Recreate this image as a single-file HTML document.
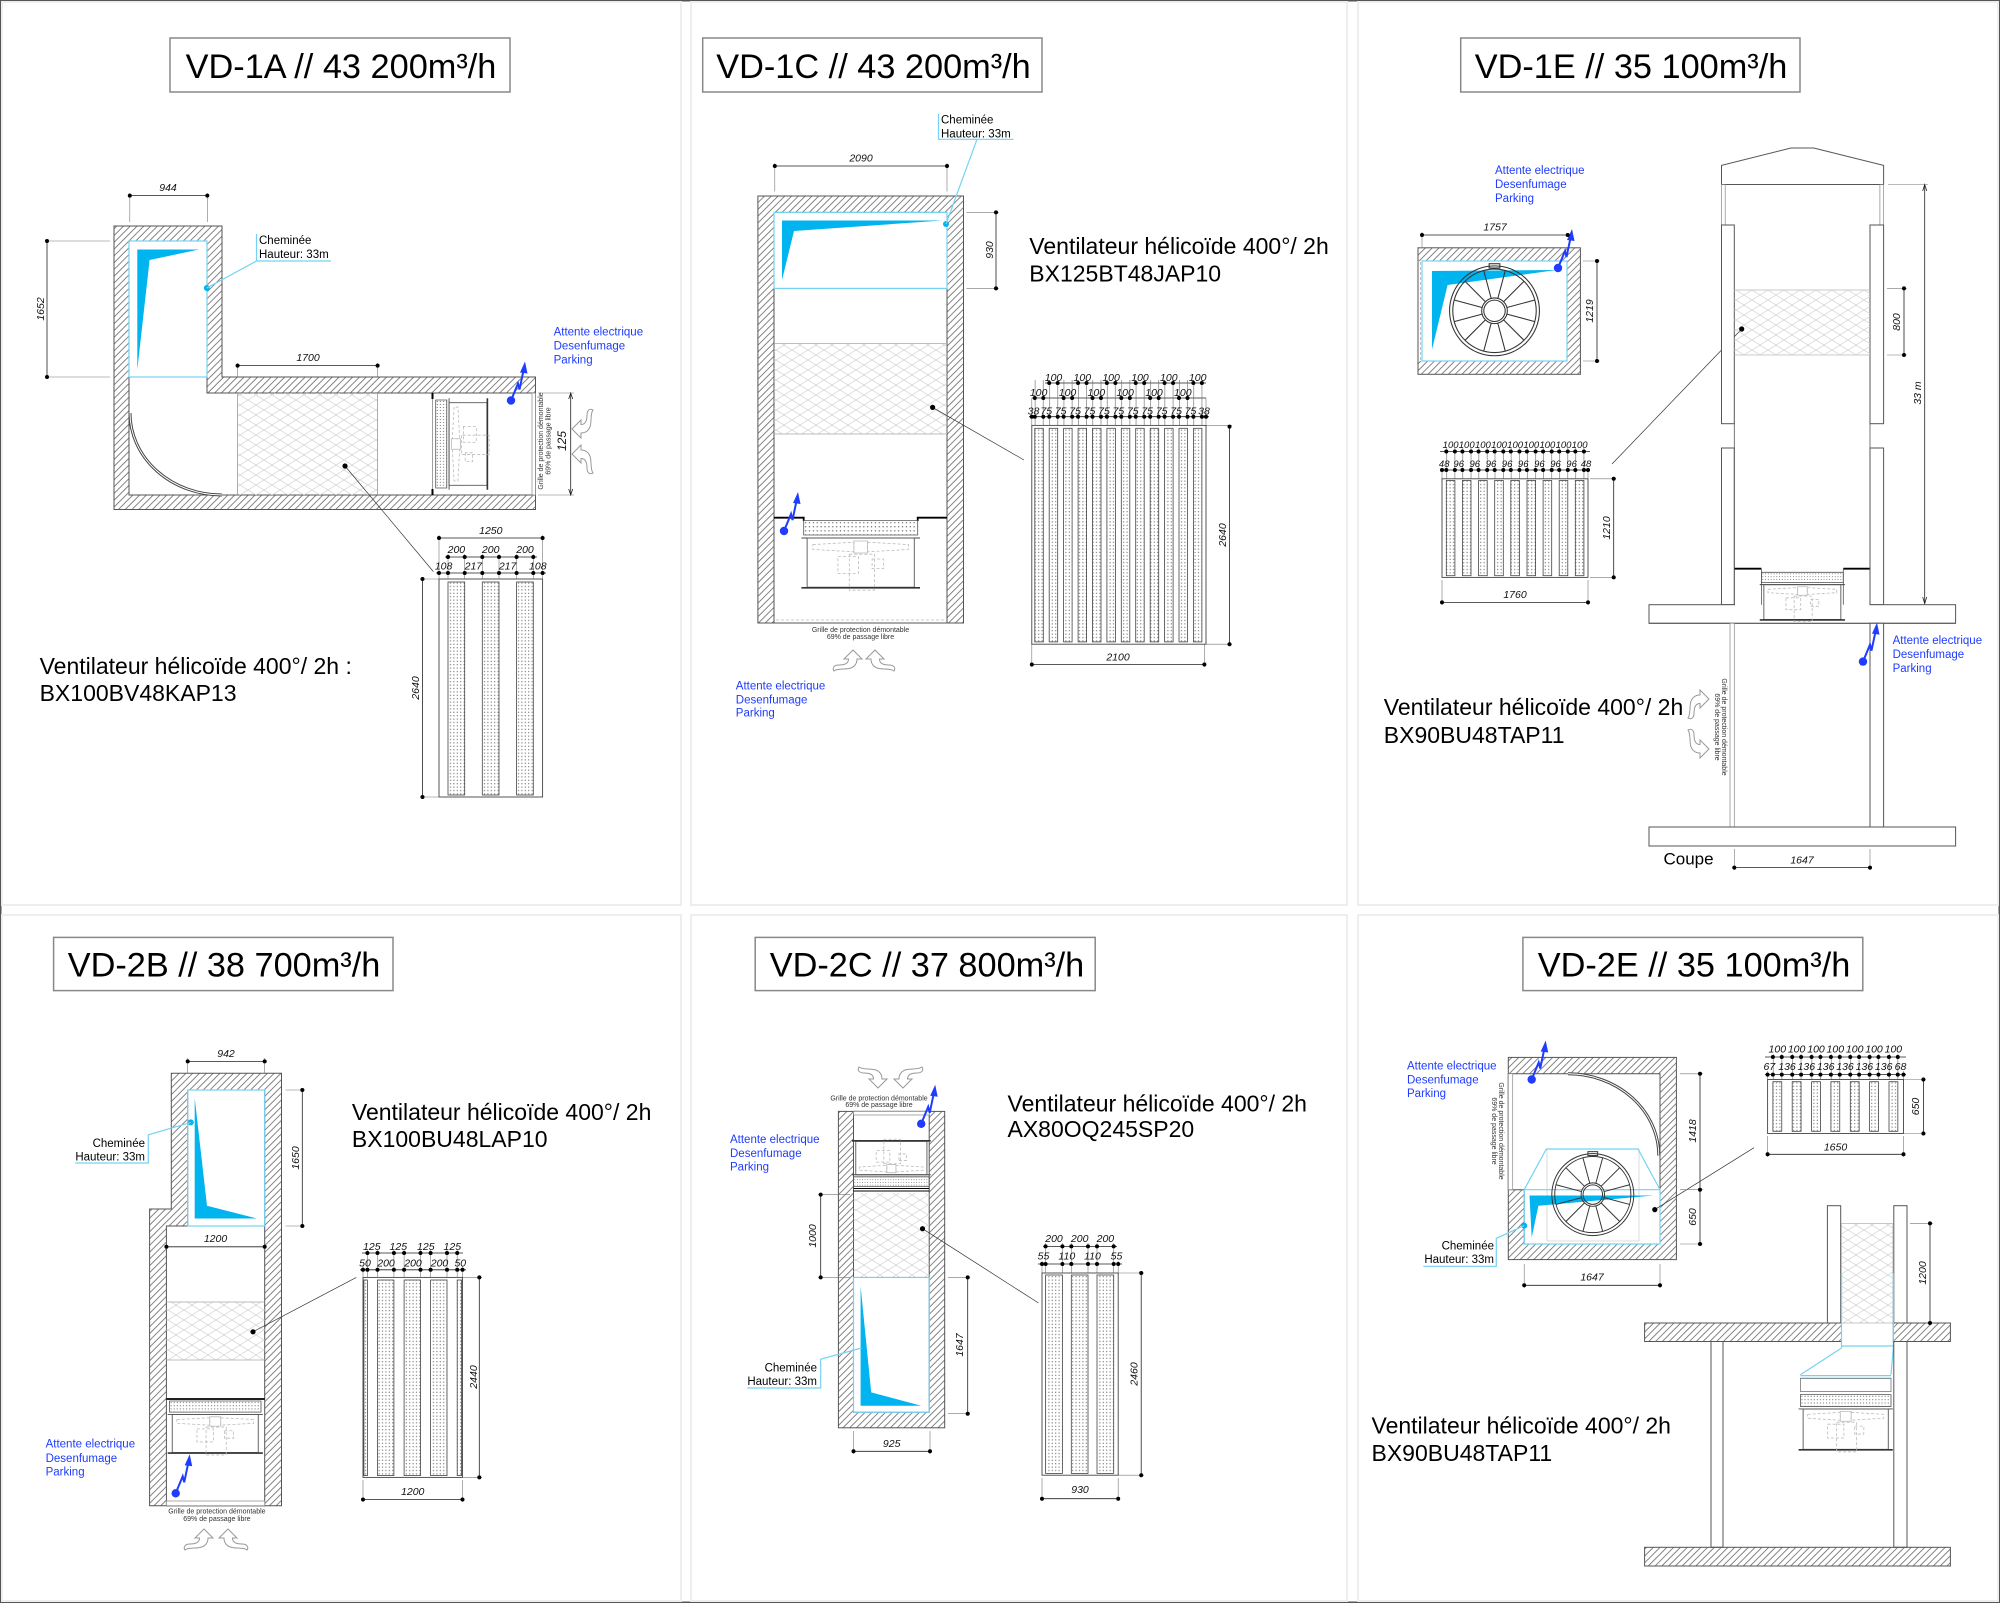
<!DOCTYPE html>
<html><head><meta charset="utf-8"><style>
html,body{margin:0;padding:0;background:#fff}
svg{display:block}
text{font-family:"Liberation Sans",Arial,sans-serif}
.t{font-size:34.3px;fill:#000;text-anchor:middle}
.v{font-size:23px;fill:#000}
.b{font-size:11.5px;fill:#1f3cff}
.c{font-size:11.5px;fill:#000}
.cr{font-size:11.5px;fill:#000;text-anchor:end}
.dm{font-size:10.5px;font-style:italic;fill:#111;text-anchor:middle}
.ds{font-size:9.5px;font-style:italic;fill:#111;text-anchor:middle}
.g{font-size:7px;fill:#333;text-anchor:middle}
.dl{stroke:#222;stroke-width:.8;fill:none}
.el{stroke:#777;stroke-width:.6;fill:none}
.w{stroke:#555;stroke-width:1;fill:url(#h)}
.wi{stroke:#555;stroke-width:1;fill:#fff}
.cy{stroke:#74d3f2;stroke-width:1.2;fill:none}
.cf{fill:#00b4f0}
.xh{fill:url(#x);stroke:#aaa;stroke-width:.8}
.st{fill:url(#d);stroke:#444;stroke-width:.8}
.fr{fill:none;stroke:#444;stroke-width:.9}
.col{fill:#fff;stroke:#555;stroke-width:1}
.ld{stroke:#333;stroke-width:.7;fill:none}
.dd{stroke:#000;stroke-width:4;stroke-linecap:round;fill:none}
.gr{fill:#fff;stroke:#888;stroke-width:.7}
.gd{stroke:#999;stroke-width:.6;stroke-dasharray:3 2;fill:none}
</style></head><body>
<svg width="2000" height="1604" viewBox="0 0 2000 1604" xmlns="http://www.w3.org/2000/svg">
<defs>
<pattern id="h" width="4.8" height="4.8" patternUnits="userSpaceOnUse" patternTransform="rotate(45)"><line x1="2.4" y1="0" x2="2.4" y2="4.8" stroke="#666" stroke-width="0.8"/></pattern>
<pattern id="x" width="16" height="10" patternUnits="userSpaceOnUse"><path d="M0,5L8,0L16,5L8,10Z" fill="none" stroke="#cfcfcf" stroke-width="0.7"/></pattern>
<pattern id="d" width="3.4" height="3.4" patternUnits="userSpaceOnUse"><circle cx="1.7" cy="1.7" r="0.6" fill="#666"/></pattern>
<pattern id="tp2" x="1034.8" y="0" width="14.42" height="20" patternUnits="userSpaceOnUse"><path d="M0.3,0V20M8.5,0V20" stroke="#666" stroke-width="0.6"/></pattern>
<pattern id="tp3" x="1446.3" y="0" width="16.13" height="20" patternUnits="userSpaceOnUse"><path d="M0.3,0V20M8.6,0V20" stroke="#666" stroke-width="0.6"/></pattern>
<pattern id="tp6" x="1772.9" y="0" width="19.34" height="20" patternUnits="userSpaceOnUse"><path d="M0.3,0V20M8.85,0V20" stroke="#666" stroke-width="0.6"/></pattern>
<g id="bolt"><circle r="4.2" fill="#1f3cff"/><path d="M0,0L7,-17L8.5,-11L12.5,-30" fill="none" stroke="#1f3cff" stroke-width="2"/><path d="M14,-39L9,-28L16.5,-27Z" fill="#1f3cff"/></g>
<path id="air" d="M9,0L18,9L13.5,9C13.5,13 17,15 23,15C28,15 30,18 28,21C25,18.5 19,19.5 13,18.5C8,17.5 5,14 5,9L0,9Z" fill="#fff" stroke="#999" stroke-width="1"/>
<g id="fan">
<rect x="0" y="0" width="100" height="12" fill="url(#d)" stroke="#555" stroke-width=".8" vector-effect="non-scaling-stroke"/>
<path d="M-2,14.5H102" stroke="#444" stroke-width=".9" vector-effect="non-scaling-stroke"/>
<rect x="3" y="14.5" width="94" height="41" fill="none" stroke="#555" stroke-width=".9" vector-effect="non-scaling-stroke"/>
<path d="M-2,56H102" stroke="#333" stroke-width="1.6" vector-effect="non-scaling-stroke"/>
<path d="M8,20L44,18V26L8,24Z M56,18L92,20V24L56,26Z" fill="none" stroke="#bbb" stroke-width=".8" stroke-dasharray="3 2" vector-effect="non-scaling-stroke"/>
<rect x="44" y="17" width="12" height="10" fill="none" stroke="#bbb" stroke-width=".8" vector-effect="non-scaling-stroke"/>
<rect x="30" y="30" width="18" height="14" fill="none" stroke="#bbb" stroke-width=".8" stroke-dasharray="3 2" vector-effect="non-scaling-stroke"/>
<rect x="40" y="28" width="22" height="30" fill="none" stroke="#bbb" stroke-width=".8" stroke-dasharray="3 2" vector-effect="non-scaling-stroke"/>
<rect x="60" y="32" width="10" height="8" fill="none" stroke="#bbb" stroke-width=".8" stroke-dasharray="3 2" vector-effect="non-scaling-stroke"/>
</g>
<g id="wheel" fill="none" stroke="#333" stroke-width="1">
<circle r="42"/><circle r="39"/><circle r="12"/><circle r="10"/>
<path d="M11.59,3.11L37.67,10.09M8.49,8.49L27.58,27.58M3.11,11.59L10.09,37.67M-3.11,11.59L-10.09,37.67M-8.49,8.49L-27.58,27.58M-11.59,3.11L-37.67,10.09M-11.59,-3.11L-37.67,-10.09M-8.49,-8.49L-27.58,-27.58M-3.11,-11.59L-10.09,-37.67M3.11,-11.59L10.09,-37.67M8.49,-8.49L27.58,-27.58M11.59,-3.11L37.67,-10.09"/>
<rect x="-5" y="-44" width="10" height="4"/>
</g>
</defs>

<rect x="0" y="0" width="2000" height="1604" fill="#fff"/>
<rect x="0.75" y="0.75" width="1998.5" height="1601.5" fill="none" stroke="#555" stroke-width="1.5"/>
<g fill="none" stroke="#eee" stroke-width="2">
<rect x="2" y="2" width="679" height="903"/>
<rect x="691" y="2" width="656" height="903"/>
<rect x="1358" y="2" width="640" height="903"/>
<rect x="2" y="915" width="679" height="686"/>
<rect x="691" y="915" width="656" height="686"/>
<rect x="1358" y="915" width="640" height="686"/>
</g>

<!-- Titles -->
<g fill="#fff" stroke="#888" stroke-width="1.5">
<rect x="170" y="38" width="340" height="54"/>
<rect x="702.7" y="38" width="339.3" height="54"/>
<rect x="1460.7" y="38" width="339.3" height="54"/>
<rect x="53.6" y="937.4" width="339.4" height="53.2"/>
<rect x="755.2" y="937.4" width="340" height="53.2"/>
<rect x="1522.9" y="937.4" width="339.9" height="53.2"/>
</g>
<text class="t" x="341" y="78">VD-1A // 43 200m³/h</text>
<text class="t" x="873.5" y="78">VD-1C // 43 200m³/h</text>
<text class="t" x="1631" y="78">VD-1E // 35 100m³/h</text>
<text class="t" x="224" y="976.5">VD-2B // 38 700m³/h</text>
<text class="t" x="927" y="976.5">VD-2C // 37 800m³/h</text>
<text class="t" x="1694" y="976.5">VD-2E // 35 100m³/h</text>

<!-- Ventilateur texts -->
<text class="v" x="39.6" y="674">Ventilateur hélicoïde 400°/ 2h :</text>
<text class="v" x="39.6" y="701">BX100BV48KAP13</text>
<text class="v" x="1029.3" y="254">Ventilateur hélicoïde 400°/ 2h</text>
<text class="v" x="1029.3" y="281.5">BX125BT48JAP10</text>
<text class="v" x="1383.8" y="715">Ventilateur hélicoïde 400°/ 2h</text>
<text class="v" x="1383.8" y="742.8">BX90BU48TAP11</text>
<text class="v" x="351.9" y="1120.2">Ventilateur hélicoïde 400°/ 2h</text>
<text class="v" x="351.9" y="1146.8">BX100BU48LAP10</text>
<text class="v" x="1007.5" y="1111.4">Ventilateur hélicoïde 400°/ 2h</text>
<text class="v" x="1007.5" y="1137">AX80OQ245SP20</text>
<text class="v" x="1371.5" y="1433.6">Ventilateur hélicoïde 400°/ 2h</text>
<text class="v" x="1371.5" y="1461">BX90BU48TAP11</text>

<!-- ================= PANEL 1 ================= -->
<path class="w" d="M114,226H222V377H535.5V509.5H114Z"/>
<path class="wi" d="M129,241H207V393H535.5V495H129Z"/>
<rect class="cy" x="129" y="241" width="78" height="136"/>
<path class="cf" d="M137.3,249.5L199,249.5L149.6,260L137.3,369.7Z"/>
<circle cx="206.8" cy="288" r="3" fill="#00b4f0"/>
<path class="cy" d="M206.8,288L256.5,261M256.5,234V261H331"/>
<text class="c" x="259" y="244">Cheminée</text>
<text class="c" x="259" y="258">Hauteur: 33m</text>
<path d="M130,413A92,82 0 0 0 222,495" fill="none" stroke="#444" stroke-width="3"/>
<path d="M130,413A92,82 0 0 0 222,495" fill="none" stroke="#fff" stroke-width="1"/>
<rect x="237.6" y="393" width="140" height="102" fill="url(#x)"/>
<path d="M237.6,393V495M377.6,393V495" stroke="#999" stroke-width=".8"/>
<path class="ld" d="M345,466L433.4,571.6"/>
<!-- fan -->
<path d="M432.5,399V489" stroke="#888" stroke-width=".8"/>
<path d="M432.5,393V399M432.5,489V495" stroke="#000" stroke-width="2"/>
<use href="#fan" transform="matrix(0,0.88,0.923,0,435.7,400)"/>
<rect class="gr" x="532" y="393" width="3.5" height="102"/>
<text class="g" transform="translate(543,441) rotate(-90)">Grille de protection démontable</text>
<text class="g" transform="translate(550.5,441) rotate(-90)">69% de passage libre</text>
<!-- dims -->
<path class="dl" d="M129.8,195.6H207.3M47,241V377M237.6,365.6H377.6M570.7,393V495"/>
<path class="el" d="M129.8,193V222M207.3,193V222M45,241H110M45,377H110M237.6,363V377M377.6,363V377M538,393H574M538,495H574"/>
<path d="M568.7,399L570.7,393L572.7,399M568.7,489L570.7,495L572.7,489" fill="none" stroke="#222" stroke-width=".8"/>
<text class="dm" x="168" y="191">944</text>
<text class="dm" transform="translate(44,309) rotate(-90)">1652</text>
<text class="dm" x="308" y="361">1700</text>
<text class="dm" style="font-size:12px" transform="translate(566,441) rotate(-90)">125</text>
<use href="#air" transform="translate(572,438) rotate(-90)"/>
<use href="#air" transform="translate(572,445) rotate(-90) scale(-1,1)"/>
<use href="#bolt" x="511" y="400.5"/>
<text class="b" x="553.6" y="335.5">Attente electrique</text>
<text class="b" x="553.6" y="349.4">Desenfumage</text>
<text class="b" x="553.6" y="363.3">Parking</text>
<!-- grid -->
<rect class="fr" x="439" y="579" width="103.6" height="218"/>
<rect class="st" x="448" y="582" width="16.7" height="213"/>
<rect class="st" x="482.3" y="582" width="16.7" height="213"/>
<rect class="st" x="516.6" y="582" width="16.7" height="213"/>
<path class="dl" d="M439,538H542.6M445,557H537M436,573H546M422.5,579V797"/>
<path class="el" d="M439,535V579M542.6,535V579M448,554V579M464.7,554V579M482.3,554V579M499,554V579M516.6,554V579M533.3,554V579M420,579H439M420,797H439"/>
<text class="dm" x="490.8" y="534">1250</text>
<text class="dm" x="456.4" y="553">200</text>
<text class="dm" x="490.7" y="553">200</text>
<text class="dm" x="525" y="553">200</text>
<text class="dm" x="443.6" y="569.5">108</text>
<text class="dm" x="473.4" y="569.5">217</text>
<text class="dm" x="507.6" y="569.5">217</text>
<text class="dm" x="537.8" y="569.5">108</text>
<text class="dm" transform="translate(419,688) rotate(-90)">2640</text>
<g fill="#000">
<circle cx="129.8" cy="195.6" r="2"/><circle cx="207.3" cy="195.6" r="2"/><circle cx="47" cy="241" r="2"/><circle cx="47" cy="377" r="2"/><circle cx="237.6" cy="365.6" r="2"/><circle cx="377.6" cy="365.6" r="2"/><circle cx="345" cy="466" r="2.6"/>
<circle cx="439" cy="538" r="2"/><circle cx="542.6" cy="538" r="2"/>
<circle cx="448" cy="557" r="2"/><circle cx="464.7" cy="557" r="2"/><circle cx="482.3" cy="557" r="2"/><circle cx="499" cy="557" r="2"/><circle cx="516.6" cy="557" r="2"/><circle cx="533.3" cy="557" r="2"/>
<circle cx="439" cy="573" r="2"/><circle cx="448" cy="573" r="2"/><circle cx="464.7" cy="573" r="2"/><circle cx="482.3" cy="573" r="2"/><circle cx="499" cy="573" r="2"/><circle cx="516.6" cy="573" r="2"/><circle cx="533.3" cy="573" r="2"/><circle cx="542.6" cy="573" r="2"/>
<circle cx="422.5" cy="579" r="2"/><circle cx="422.5" cy="797" r="2"/>
</g>

<!-- ================= PANEL 2 ================= -->
<path class="w" d="M757.9,196H963.5V623H757.9Z"/>
<rect class="wi" x="774" y="212.4" width="173" height="410.6"/>
<rect class="cy" x="774" y="212.4" width="173" height="76"/>
<path class="cf" d="M782,220.5L942.3,220.5L794,231L782,280Z"/>
<circle cx="946" cy="224" r="3" fill="#00b4f0"/>
<path class="cy" d="M946,224L977,139.3M938.5,113.8V139.3H1013.6"/>
<text class="c" x="941" y="123.6">Cheminée</text>
<text class="c" x="941" y="137.5">Hauteur: 33m</text>
<rect x="774" y="343.6" width="173" height="90.4" fill="url(#x)"/>
<path d="M774,343.6H947M774,434H947" stroke="#aaa" stroke-width=".8"/>
<path class="ld" d="M932.6,407.4L1024,460"/>
<path d="M774,517.7H803.7V521M917.7,521V517.7H947" fill="none" stroke="#000" stroke-width="1.8"/>
<use href="#fan" transform="matrix(1.14,0,0,1.2,803.7,520.6)"/>
<path class="gd" d="M776,620H945"/>
<text class="g" x="860.5" y="632">Grille de protection démontable</text>
<text class="g" x="860.5" y="639">69% de passage libre</text>
<use href="#air" transform="translate(862,650) scale(-1,1)"/>
<use href="#air" transform="translate(866,650)"/>
<use href="#bolt" x="784" y="531"/>
<text class="b" x="735.8" y="689.5">Attente electrique</text>
<text class="b" x="735.8" y="703.4">Desenfumage</text>
<text class="b" x="735.8" y="716.7">Parking</text>
<path class="dl" d="M774.8,166H947M996,212.4V288.4M1045,383H1206M1031.8,398H1206M1029,416.7H1209M1229.5,426.6V644.2M1031.8,664.5H1204.4"/>
<path class="el" d="M774.8,163V191.5M947,163V191.5M966.5,212.4H999M966.5,288.4H999M1031.8,398V425M1206,398V425M1206,425.4H1232M1206,644.2H1232M1031.8,644V667M1204.4,644V667"/>
<text class="dm" x="861" y="161.5">2090</text>
<text class="dm" transform="translate(993,250) rotate(-90)">930</text>
<!-- grid -->
<rect x="1033" y="380" width="172" height="45" fill="url(#tp2)"/>
<rect class="fr" x="1031.8" y="425.4" width="174.2" height="218.8"/>
<g class="st">
<rect x="1034.8" y="428.3" width="8.5" height="213.6"/><rect x="1049.2" y="428.3" width="8.5" height="213.6"/><rect x="1063.6" y="428.3" width="8.5" height="213.6"/><rect x="1078.1" y="428.3" width="8.5" height="213.6"/><rect x="1092.5" y="428.3" width="8.5" height="213.6"/><rect x="1106.9" y="428.3" width="8.5" height="213.6"/><rect x="1121.3" y="428.3" width="8.5" height="213.6"/><rect x="1135.7" y="428.3" width="8.5" height="213.6"/><rect x="1150.2" y="428.3" width="8.5" height="213.6"/><rect x="1164.6" y="428.3" width="8.5" height="213.6"/><rect x="1179" y="428.3" width="8.5" height="213.6"/><rect x="1193.4" y="428.3" width="8.5" height="213.6"/>
</g>
<path class="dd" stroke-dasharray="0 14.42" d="M1034.8,416.7H1193.5M1043.3,416.7H1202"/>
<path class="dd" stroke-dasharray="0 28.84" d="M1034.8,398H1179.1M1043.3,398H1187.6M1049.2,383H1193.5M1057.7,383H1202"/>
<g class="dm">
<text x="1053.5" y="381">100</text><text x="1082.3" y="381">100</text><text x="1111.1" y="381">100</text><text x="1140" y="381">100</text><text x="1168.8" y="381">100</text><text x="1197.7" y="381">100</text>
<text x="1038.6" y="396">100</text><text x="1067.5" y="396">100</text><text x="1096.3" y="396">100</text><text x="1125.1" y="396">100</text><text x="1154" y="396">100</text><text x="1182.8" y="396">100</text>
<text x="1033.5" y="414.5">38</text><text x="1046.3" y="414.5">75</text><text x="1060.7" y="414.5">75</text><text x="1075.1" y="414.5">75</text><text x="1089.5" y="414.5">75</text><text x="1104" y="414.5">75</text><text x="1118.4" y="414.5">75</text><text x="1132.8" y="414.5">75</text><text x="1147.2" y="414.5">75</text><text x="1161.7" y="414.5">75</text><text x="1176.1" y="414.5">75</text><text x="1190.5" y="414.5">75</text><text x="1204" y="414.5">38</text>
</g>
<text class="dm" transform="translate(1226,535) rotate(-90)">2640</text>
<text class="dm" x="1118" y="660.5">2100</text>
<g fill="#000">
<circle cx="774.8" cy="166" r="2"/><circle cx="947" cy="166" r="2"/><circle cx="996" cy="212.4" r="2"/><circle cx="996" cy="288.4" r="2"/><circle cx="932.6" cy="407.4" r="2.6"/><circle cx="1031.8" cy="416.7" r="2"/><circle cx="1206" cy="416.7" r="2"/><circle cx="1229.5" cy="426.6" r="2"/><circle cx="1229.5" cy="644.2" r="2"/><circle cx="1031.8" cy="664.5" r="2"/><circle cx="1204.4" cy="664.5" r="2"/>
</g>

<!-- ================= PANEL 3 ================= -->
<text class="b" x="1495" y="174">Attente electrique</text>
<text class="b" x="1495" y="188">Desenfumage</text>
<text class="b" x="1495" y="202">Parking</text>
<rect class="w" x="1418" y="247.8" width="162.4" height="126.5"/>
<rect x="1418.5" y="261" width="148.5" height="100" fill="#fff"/>
<path d="M1418,247.8V374.3" stroke="#555" stroke-width="1"/>
<path d="M1422.5,261H1567V361H1422.5" fill="none" stroke="#555" stroke-width="1"/>
<path class="gd" d="M1420.3,262V360"/>
<rect class="cy" x="1422" y="261" width="145" height="100"/>
<path class="cf" d="M1432,271L1556.6,270L1447.6,285L1432,349.5Z"/>
<use href="#wheel" transform="translate(1494.5,310.8) scale(1.07)"/>
<use href="#bolt" x="1558" y="268"/>
<path class="dl" d="M1422,235H1567.7M1597,261V361M1440,451.5H1590M1440,470H1590M1613.7,478.8V577.4M1442,602.4H1588"/>
<path class="el" d="M1422,232V247M1583,261H1600M1583,361H1600M1590,478.8H1616M1590,577.4H1616M1442,580V605M1588,580V605M1442,468V478.8M1588,468V478.8"/>
<text class="dm" x="1495" y="230.4">1757</text>
<text class="dm" transform="translate(1593,311) rotate(-90)">1219</text>
<rect x="1445" y="448" width="140" height="30.8" fill="url(#tp3)"/>
<rect class="fr" x="1442" y="478.8" width="146" height="98.6"/>
<g class="st">
<rect x="1446.3" y="480.5" width="8.6" height="95.2"/><rect x="1462.4" y="480.5" width="8.6" height="95.2"/><rect x="1478.6" y="480.5" width="8.6" height="95.2"/><rect x="1494.7" y="480.5" width="8.6" height="95.2"/><rect x="1510.8" y="480.5" width="8.6" height="95.2"/><rect x="1527" y="480.5" width="8.6" height="95.2"/><rect x="1543.1" y="480.5" width="8.6" height="95.2"/><rect x="1559.2" y="480.5" width="8.6" height="95.2"/><rect x="1575.3" y="480.5" width="8.6" height="95.2"/>
</g>
<path class="dd" stroke-dasharray="0 16.13" d="M1446.3,451.5H1575.5M1454.9,451.5H1584.1M1446.3,470H1575.5M1454.9,470H1584.1"/>
<g class="ds">
<text x="1450.6" y="448">100</text><text x="1466.7" y="448">100</text><text x="1482.9" y="448">100</text><text x="1499" y="448">100</text><text x="1515.1" y="448">100</text><text x="1531.3" y="448">100</text><text x="1547.4" y="448">100</text><text x="1563.5" y="448">100</text><text x="1579.6" y="448">100</text>
<text x="1444.2" y="467">48</text><text x="1458.7" y="467">96</text><text x="1474.8" y="467">96</text><text x="1491" y="467">96</text><text x="1507.1" y="467">96</text><text x="1523.2" y="467">96</text><text x="1539.4" y="467">96</text><text x="1555.5" y="467">96</text><text x="1571.6" y="467">96</text><text x="1586" y="467">48</text>
</g>
<text class="dm" transform="translate(1610,528) rotate(-90)">1210</text>
<text class="dm" x="1515" y="597.8">1760</text>
<path class="ld" d="M1612,464L1741.7,329"/>
<!-- section -->
<path d="M1721.5,184.5V165.4L1791,148H1813.7L1883.6,165.4V184.5Z" fill="none" stroke="#555" stroke-width="1"/>
<rect x="1721.5" y="184.5" width="3.7" height="40.5" fill="none" stroke="#888" stroke-width=".7"/>
<rect x="1879.9" y="184.5" width="3.7" height="40.5" fill="none" stroke="#888" stroke-width=".7"/>
<rect class="col" x="1721.5" y="225" width="12.8" height="198.7"/>
<rect class="col" x="1870" y="225" width="13.6" height="198.7"/>
<rect x="1734.3" y="290" width="135.7" height="65" fill="url(#x)"/>
<path d="M1734.3,290H1870M1734.3,355H1870" stroke="#bbb" stroke-width=".8"/>
<rect class="col" x="1721.5" y="448" width="12.8" height="156.7"/>
<rect class="col" x="1870" y="448" width="13.6" height="156.7"/>
<rect class="col" x="1649" y="604.7" width="306.6" height="18.6"/>
<rect x="1735" y="603.5" width="134.5" height="19.3" fill="#fff"/>
<path d="M1649,623.3H1955.6" stroke="#555" stroke-width="1"/>
<path d="M1734.3,568.7H1761.4M1843.3,568.7H1870" stroke="#000" stroke-width="1.8"/>
<path d="M1761.4,568.7V604.7M1843.3,568.7V604.7M1734.3,423.7V604.7M1870,423.7V604.7" stroke="#555" stroke-width=".8"/>
<use href="#fan" transform="matrix(0.819,0,0,0.85,1761.4,572.3)"/>
<rect class="gr" x="1730" y="623.3" width="4.3" height="203.7"/>
<rect class="col" x="1870" y="623.3" width="13.6" height="203.7"/>
<rect class="col" x="1649" y="827" width="306.6" height="19"/>
<text class="g" transform="translate(1722,727) rotate(90)">Grille de protection démontable</text>
<text class="g" transform="translate(1715,727) rotate(90)">69% de passage libre</text>
<text x="1663.5" y="864.7" style="font-size:17px;fill:#000">Coupe</text>
<path class="dl" d="M1904,288.4V355M1924.7,184.5V603.6M1734.3,867.6H1870"/>
<path class="el" d="M1887,288.4H1907M1887,355H1907M1888,184.5H1928M1734.3,849V870M1870,849V870"/>
<path d="M1922.7,191L1924.7,184.5L1926.7,191M1922.7,597L1924.7,603.6L1926.7,597" fill="none" stroke="#222" stroke-width=".8"/>
<text class="dm" transform="translate(1900,322) rotate(-90)">800</text>
<text class="dm" transform="translate(1921,393) rotate(-90)">33 m</text>
<text class="dm" x="1802" y="863.5">1647</text>
<use href="#air" transform="translate(1709,690) rotate(90)"/>
<use href="#air" transform="translate(1709,758) rotate(90) scale(-1,1)"/>
<use href="#bolt" x="1863" y="661.6"/>
<text class="b" x="1892.6" y="644">Attente electrique</text>
<text class="b" x="1892.6" y="658">Desenfumage</text>
<text class="b" x="1892.6" y="672">Parking</text>
<g fill="#000">
<circle cx="1422" cy="235" r="2"/><circle cx="1567.7" cy="235" r="2"/><circle cx="1597" cy="261" r="2"/><circle cx="1597" cy="361" r="2"/><circle cx="1442" cy="470" r="2"/><circle cx="1588" cy="470" r="2"/><circle cx="1613.7" cy="478.8" r="2"/><circle cx="1613.7" cy="577.4" r="2"/><circle cx="1442" cy="602.4" r="2"/><circle cx="1588" cy="602.4" r="2"/><circle cx="1741.7" cy="329" r="2.6"/><circle cx="1904" cy="288.4" r="2"/><circle cx="1904" cy="355" r="2"/><circle cx="1734.3" cy="867.6" r="2"/><circle cx="1870" cy="867.6" r="2"/>
</g>

<!-- ================= PANEL 4 ================= -->
<path class="w" d="M171.3,1073.3H281.5V1505.7H149.6V1209H171.3Z"/>
<path class="wi" d="M187.7,1090H264.7V1505.7H166.4V1226H187.7Z"/>
<rect class="gr" x="166.4" y="1501" width="98.3" height="4.7"/>
<rect class="cy" x="187.7" y="1090" width="77" height="136"/>
<path class="cf" d="M194.7,1098L207,1205.7L256.7,1218.5L194.7,1218.5Z"/>
<circle cx="190.8" cy="1122.4" r="3" fill="#00b4f0"/>
<path class="cy" d="M190.8,1122.4L148.3,1134.8V1163H75.2"/>
<text class="cr" x="145" y="1146.8">Cheminée</text>
<text class="cr" x="145" y="1160.5">Hauteur: 33m</text>
<rect x="166.4" y="1302" width="98.3" height="58" fill="url(#x)"/>
<path d="M166.4,1302H264.7M166.4,1360H264.7" stroke="#aaa" stroke-width=".8"/>
<path class="ld" d="M253,1331.8L356.3,1277.4"/>
<path d="M166.4,1399H264.7" stroke="#000" stroke-width="1.8"/>
<use href="#fan" transform="matrix(0.915,0,0,0.93,169.5,1401)"/>
<use href="#bolt" x="175.7" y="1493.3"/>
<text class="g" x="216.9" y="1513.3">Grille de protection démontable</text>
<text class="g" x="216.9" y="1520.8">69% de passage libre</text>
<use href="#air" transform="translate(213,1529) scale(-1,1)"/>
<use href="#air" transform="translate(219,1529)"/>
<text class="b" x="45.6" y="1447.7">Attente electrique</text>
<text class="b" x="45.6" y="1462">Desenfumage</text>
<text class="b" x="45.6" y="1475.6">Parking</text>
<path class="dl" d="M187.7,1061.4H264.7M302.3,1090V1226M166.4,1246.8H264.7M362,1253H463M360,1269.8H466M479.3,1277.4V1477.4M363,1499.5H462.5"/>
<path class="el" d="M187.7,1058V1073M264.7,1058V1073M285.5,1090H305M285.5,1226H305M363,1266V1277M367.4,1250V1277M377.5,1250V1277M393.9,1250V1277M404.1,1250V1277M420.5,1250V1277M430.6,1250V1277M447,1250V1277M457.2,1250V1277M462.5,1266V1277M462.5,1277.4H482M462.5,1477.4H482M363,1480V1502M462.5,1480V1502"/>
<text class="dm" x="226" y="1057">942</text>
<text class="dm" transform="translate(299,1158) rotate(-90)">1650</text>
<text class="dm" x="215.5" y="1242">1200</text>
<rect class="fr" x="363" y="1277.4" width="99.5" height="200"/>
<g class="st">
<rect x="363.9" y="1280" width="3.5" height="195.6"/><rect x="377.5" y="1280" width="16.4" height="195.6"/><rect x="404.1" y="1280" width="16.4" height="195.6"/><rect x="430.6" y="1280" width="16.4" height="195.6"/><rect x="457.2" y="1280" width="4.4" height="195.6"/>
</g>
<g class="dm">
<text x="371.8" y="1250">125</text><text x="398.3" y="1250">125</text><text x="425.8" y="1250">125</text><text x="452.3" y="1250">125</text>
<text x="365" y="1266.3">50</text><text x="386" y="1266.3">200</text><text x="413" y="1266.3">200</text><text x="439.5" y="1266.3">200</text><text x="460.3" y="1266.3">50</text>
</g>
<text class="dm" transform="translate(477,1377) rotate(-90)">2440</text>
<text class="dm" x="412.7" y="1495">1200</text>
<g fill="#000">
<circle cx="187.7" cy="1061.4" r="2"/><circle cx="264.7" cy="1061.4" r="2"/><circle cx="302.3" cy="1090" r="2"/><circle cx="302.3" cy="1226" r="2"/><circle cx="166.4" cy="1246.8" r="2"/><circle cx="264.7" cy="1246.8" r="2"/><circle cx="253" cy="1331.8" r="2.6"/><circle cx="479.3" cy="1277.4" r="2"/><circle cx="479.3" cy="1477.4" r="2"/><circle cx="363" cy="1499.5" r="2"/><circle cx="462.5" cy="1499.5" r="2"/>
<circle cx="367.4" cy="1253" r="2"/><circle cx="377.5" cy="1253" r="2"/><circle cx="393.9" cy="1253" r="2"/><circle cx="404.1" cy="1253" r="2"/><circle cx="420.5" cy="1253" r="2"/><circle cx="430.6" cy="1253" r="2"/><circle cx="447" cy="1253" r="2"/><circle cx="457.2" cy="1253" r="2"/>
<circle cx="363" cy="1269.8" r="2"/><circle cx="367.4" cy="1269.8" r="2"/><circle cx="377.5" cy="1269.8" r="2"/><circle cx="393.9" cy="1269.8" r="2"/><circle cx="404.1" cy="1269.8" r="2"/><circle cx="420.5" cy="1269.8" r="2"/><circle cx="430.6" cy="1269.8" r="2"/><circle cx="447" cy="1269.8" r="2"/><circle cx="457.2" cy="1269.8" r="2"/><circle cx="462.5" cy="1269.8" r="2"/>
</g>

<!-- ================= PANEL 5 ================= -->
<rect class="w" x="838.4" y="1111.4" width="106.3" height="316.4"/>
<rect class="wi" x="853.5" y="1111.4" width="75.7" height="300.9"/>
<rect class="gr" x="853.5" y="1111.4" width="75.7" height="3.6"/>
<text class="g" x="879" y="1100.3">Grille de protection démontable</text>
<text class="g" x="879" y="1107">69% de passage libre</text>
<use href="#air" transform="translate(887,1088) rotate(180)"/>
<use href="#air" transform="translate(894,1088) scale(1,-1)"/>
<use href="#fan" transform="matrix(0.757,0,0,-0.817,853.5,1186.6)"/>
<path d="M853.5,1188.5H929.2M853.5,1191H929.2" stroke="#000" stroke-width="1"/>
<rect x="853.5" y="1193" width="75.7" height="84.4" fill="url(#x)"/>
<path class="ld" d="M922.5,1228.7L1038.5,1303"/>
<rect class="cy" x="853.5" y="1277.4" width="75.7" height="134.9"/>
<path class="cf" d="M860.6,1286.2L871.2,1392.4L921.2,1405.7L860.6,1405.7Z"/>
<path class="cy" d="M861.5,1348L820.7,1359.2V1388H747.3"/>
<text class="cr" x="817" y="1371.6">Cheminée</text>
<text class="cr" x="817" y="1385">Hauteur: 33m</text>
<use href="#bolt" x="921.2" y="1123.8"/>
<text class="b" x="730" y="1143.2">Attente electrique</text>
<text class="b" x="730" y="1157">Desenfumage</text>
<text class="b" x="730" y="1170.7">Parking</text>
<path class="dl" d="M820.7,1194.6V1277.4M967.7,1277.4V1413.7M853.5,1451.3H930M1043,1246.4H1117M1038,1264H1122M1141.2,1273V1475.2M1042,1498.7H1118.2"/>
<path class="el" d="M818,1194.6H850M818,1277.4H850M948,1277.4H970M948,1413.7H970M853.5,1431V1454M930,1431V1454M1042,1261V1273M1045.6,1243V1273M1062.4,1243V1273M1071.3,1243V1273M1088,1243V1273M1097,1243V1273M1113.7,1243V1273M1118.2,1261V1273M1118.2,1273H1144M1118.2,1475.2H1144M1042,1478V1501M1118.2,1478V1501"/>
<text class="dm" transform="translate(816,1236) rotate(-90)">1000</text>
<text class="dm" transform="translate(963,1345) rotate(-90)">1647</text>
<text class="dm" x="891.7" y="1446.8">925</text>
<rect class="fr" x="1042" y="1273" width="76.2" height="202.2"/>
<g class="st">
<rect x="1045.6" y="1275" width="16.8" height="198.4"/><rect x="1071.3" y="1275" width="16.7" height="198.4"/><rect x="1097" y="1275" width="16.7" height="198.4"/>
</g>
<g class="dm">
<text x="1054" y="1242">200</text><text x="1079.7" y="1242">200</text><text x="1105.4" y="1242">200</text>
<text x="1043.5" y="1259.6">55</text><text x="1066.8" y="1259.6">110</text><text x="1092.5" y="1259.6">110</text><text x="1116.5" y="1259.6">55</text>
</g>
<text class="dm" transform="translate(1137.5,1374) rotate(-90)">2460</text>
<text class="dm" x="1080" y="1493">930</text>
<g fill="#000">
<circle cx="820.7" cy="1194.6" r="2"/><circle cx="820.7" cy="1277.4" r="2"/><circle cx="967.7" cy="1277.4" r="2"/><circle cx="967.7" cy="1413.7" r="2"/><circle cx="853.5" cy="1451.3" r="2"/><circle cx="930" cy="1451.3" r="2"/><circle cx="922.5" cy="1228.7" r="2.6"/><circle cx="1141.2" cy="1273" r="2"/><circle cx="1141.2" cy="1475.2" r="2"/><circle cx="1042" cy="1498.7" r="2"/><circle cx="1118.2" cy="1498.7" r="2"/>
<circle cx="1045.6" cy="1246.4" r="2"/><circle cx="1062.4" cy="1246.4" r="2"/><circle cx="1071.3" cy="1246.4" r="2"/><circle cx="1088" cy="1246.4" r="2"/><circle cx="1097" cy="1246.4" r="2"/><circle cx="1113.7" cy="1246.4" r="2"/>
<circle cx="1042" cy="1264" r="2"/><circle cx="1045.6" cy="1264" r="2"/><circle cx="1062.4" cy="1264" r="2"/><circle cx="1071.3" cy="1264" r="2"/><circle cx="1088" cy="1264" r="2"/><circle cx="1097" cy="1264" r="2"/><circle cx="1113.7" cy="1264" r="2"/><circle cx="1118.2" cy="1264" r="2"/>
</g>

<!-- ================= PANEL 6 ================= -->
<rect class="w" x="1508.3" y="1057.4" width="168.1" height="202.2"/>
<path class="wi" d="M1508.3,1073.8H1660V1244H1524.2V1189.7H1508.3Z"/>
<rect class="gr" x="1508.3" y="1073.8" width="4.4" height="115.9"/>
<text class="g" transform="translate(1499,1131) rotate(90)">Grille de protection démontable</text>
<text class="g" transform="translate(1492,1131) rotate(90)">69% de passage libre</text>
<path d="M1568,1073.8A90.8,81.8 0 0 1 1658.8,1155.6" fill="none" stroke="#444" stroke-width="3"/>
<path d="M1568,1073.8A90.8,81.8 0 0 1 1658.8,1155.6" fill="none" stroke="#fff" stroke-width="1"/>
<rect x="1547" y="1149" width="92" height="92" fill="none" stroke="#ccc" stroke-width=".7"/>
<path class="cy" d="M1546.3,1149H1638L1660,1189.7V1244H1524.2V1189.7ZM1524.2,1189.7H1660"/>
<path class="cf" d="M1529.5,1195.5L1653.4,1195.5L1538.4,1205.7L1531.7,1237.5Z"/>
<use href="#wheel" transform="translate(1592.8,1194.6) scale(0.976)"/>
<circle cx="1524.2" cy="1225.6" r="3" fill="#00b4f0"/>
<path class="cy" d="M1524.2,1225.6L1496.3,1238.4V1266.3H1423.3"/>
<text class="cr" x="1494" y="1249.5">Cheminée</text>
<text class="cr" x="1494" y="1263.2">Hauteur: 33m</text>
<path class="ld" d="M1654.8,1209.6L1754,1147.7"/>
<use href="#bolt" x="1531.7" y="1079.5"/>
<text class="b" x="1407" y="1069.3">Attente electrique</text>
<text class="b" x="1407" y="1083.5">Desenfumage</text>
<text class="b" x="1407" y="1096.8">Parking</text>
<path class="dl" d="M1700,1073.8V1244M1524.2,1285.3H1660M1765,1057H1906M1765,1074.6H1906M1923.4,1079.5V1133.5M1767.6,1154.3H1903.5M1930,1223.4V1323"/>
<path class="el" d="M1680,1073.8H1703M1680,1189.7H1703M1680,1244H1703M1524.2,1264V1288M1660,1264V1288M1767.6,1071V1079.5M1903.5,1071V1079.5M1903.5,1079.5H1926M1903.5,1133.5H1926M1767.6,1136V1157M1903.5,1136V1157M1910,1223.4H1933M1910,1323H1933"/>
<text class="dm" transform="translate(1696,1131) rotate(-90)">1418</text>
<text class="dm" transform="translate(1696,1217) rotate(-90)">650</text>
<text class="dm" x="1592" y="1280.5">1647</text>
<rect x="1771" y="1054" width="128" height="25.5" fill="url(#tp6)"/>
<rect class="fr" x="1767.6" y="1079.5" width="135.9" height="54"/>
<g class="st">
<rect x="1772.9" y="1081.7" width="8.85" height="49.6"/><rect x="1792.2" y="1081.7" width="8.85" height="49.6"/><rect x="1811.6" y="1081.7" width="8.85" height="49.6"/><rect x="1830.9" y="1081.7" width="8.85" height="49.6"/><rect x="1850.3" y="1081.7" width="8.85" height="49.6"/><rect x="1869.6" y="1081.7" width="8.85" height="49.6"/><rect x="1889" y="1081.7" width="8.85" height="49.6"/>
</g>
<path class="dd" stroke-dasharray="0 19.34" d="M1772.9,1057H1889.1M1781.75,1057H1898M1772.9,1074.6H1889.1M1781.75,1074.6H1898"/>
<g class="dm">
<text x="1777.3" y="1052.5">100</text><text x="1796.6" y="1052.5">100</text><text x="1816" y="1052.5">100</text><text x="1835.3" y="1052.5">100</text><text x="1854.7" y="1052.5">100</text><text x="1874" y="1052.5">100</text><text x="1893.4" y="1052.5">100</text>
<text x="1769.4" y="1070.2">67</text><text x="1787" y="1070.2">136</text><text x="1806.3" y="1070.2">136</text><text x="1825.7" y="1070.2">136</text><text x="1845" y="1070.2">136</text><text x="1864.4" y="1070.2">136</text><text x="1883.7" y="1070.2">136</text><text x="1900.5" y="1070.2">68</text>
</g>
<text class="dm" transform="translate(1919,1106.5) rotate(-90)">650</text>
<text class="dm" x="1835.5" y="1150.3">1650</text>
<!-- section -->
<rect class="col" x="1827.4" y="1205.7" width="13.3" height="117.3"/>
<rect class="col" x="1893.8" y="1205.7" width="13.2" height="117.3"/>
<rect x="1841.5" y="1223.4" width="51.4" height="99.6" fill="url(#x)" stroke="#bbb" stroke-width=".8"/>
<rect class="w" x="1644.6" y="1323" width="196.9" height="18.5"/>
<rect class="w" x="1893.3" y="1323" width="57.1" height="18.5"/>
<path class="cy" d="M1841.5,1273V1348M1893.3,1273V1348M1841.5,1346H1893.3M1841.5,1348L1800.4,1374.7M1893.3,1348L1891,1374.7M1800.4,1375.6H1891M1800.4,1378.3H1891"/>
<rect x="1800.4" y="1378.3" width="90.6" height="13.2" fill="none" stroke="#777" stroke-width=".8"/>
<use href="#fan" transform="matrix(0.906,0,0,0.986,1800.4,1394.6)"/>
<rect class="col" x="1711" y="1341.5" width="12" height="205.8"/>
<rect class="col" x="1893.8" y="1341.5" width="13.2" height="205.8"/>
<rect class="w" x="1644.6" y="1547.3" width="305.8" height="18.7"/>
<text class="dm" transform="translate(1926,1273) rotate(-90)">1200</text>
<g fill="#000">
<circle cx="1700" cy="1073.8" r="2"/><circle cx="1700" cy="1189.7" r="2"/><circle cx="1700" cy="1244" r="2"/><circle cx="1524.2" cy="1285.3" r="2"/><circle cx="1660" cy="1285.3" r="2"/><circle cx="1654.8" cy="1209.6" r="2.6"/><circle cx="1923.4" cy="1079.5" r="2"/><circle cx="1923.4" cy="1133.5" r="2"/><circle cx="1767.6" cy="1154.3" r="2"/><circle cx="1903.5" cy="1154.3" r="2"/><circle cx="1767.6" cy="1074.6" r="2"/><circle cx="1903.5" cy="1074.6" r="2"/><circle cx="1930" cy="1223.4" r="2"/><circle cx="1930" cy="1323" r="2"/>
</g>
</svg>
</body></html>
